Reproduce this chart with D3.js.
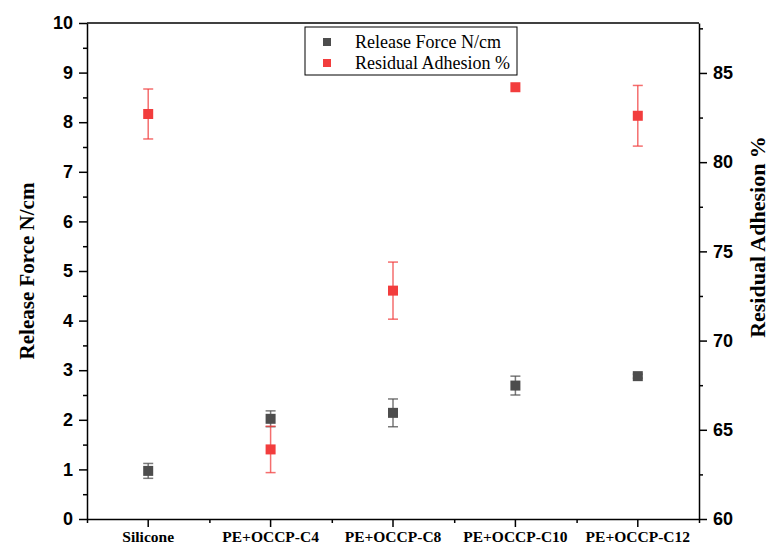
<!DOCTYPE html>
<html>
<head>
<meta charset="utf-8">
<script src="https://cdn.jsdelivr.net/npm/d3@7"></script>
<style>
  body { margin: 0; background: #fff; }
  .tick text { font-family: "Liberation Sans", Arial, sans-serif; font-weight: bold; font-size: 18px; fill: #000; }
  .xaxis .tick text { font-family: "Liberation Serif", "Times New Roman", serif; font-size: 15.5px; }
  .domain, .tick line { stroke: #000; stroke-width: 1.5px; }
</style>
</head>
<body>
<div id="chart"></div>
<script>
// categories + values
var categories = ["Silicone", "PE+OCCP-C4", "PE+OCCP-C8", "PE+OCCP-C10", "PE+OCCP-C12"];
var releaseForce = [0.97, 2.02, 2.14, 2.69, 2.88];
var releaseErr = [0.15, 0.16, 0.28, 0.19, 0.04];
var residualAdhesion = [82.7, 63.9, 72.8, 84.2, 82.6];
var residualErr = [1.4, 1.3, 1.6, 0, 1.7];

var leftTicks = [0, 1, 2, 3, 4, 5, 6, 7, 8, 9, 10];
var rightTicks = [60, 65, 70, 75, 80, 85];

var svgWidth = 769, svgHeight = 550;
var margin = {top: 23, left: 87, right: 70, bottom: 31};
var width = svgWidth - margin.left - margin.right;   // 612
var height = svgHeight - margin.top - margin.bottom; // 496

var svg = d3.select("#chart").append("svg")
    .attr("width", svgWidth)
    .attr("height", svgHeight);

var g = svg.append("g")
    .attr("transform", `translate(${margin.left}, ${margin.top})`);

var xBand = d3.scaleBand().domain(categories).range([0, width]);
var xScale = d => xBand(d) + xBand.bandwidth() / 2;
var yLeft = d3.scaleLinear().domain([0, 10]).range([height, 0]);
var yRight = d3.scaleLinear().domain([60, 87.8]).range([height, 0]);

// minor ticks first
var xMinor = categories.map(c => xBand(c)).concat([width]);
g.append("g")
    .attr("transform", `translate(0, ${height})`)
    .call(d3.axisBottom(d3.scaleLinear().domain([0, width]).range([0, width]))
        .tickValues(xMinor).tickSize(4).tickFormat(""))
    .call(a => a.select(".domain").remove());
g.append("g")
    .call(d3.axisLeft(yLeft).tickValues(d3.range(0.5, 10, 1)).tickSize(4).tickFormat(""))
    .call(a => a.select(".domain").remove());
g.append("g")
    .attr("transform", `translate(${width}, 0)`)
    .call(d3.axisRight(yRight).tickValues([62.5, 67.5, 72.5, 77.5, 82.5, 87.5]).tickSize(4).tickFormat(""))
    .call(a => a.select(".domain").remove());

// major axes
g.append("g")
    .attr("class", "xaxis")
    .attr("transform", `translate(0, ${height})`)
    .call(d3.axisBottom(xBand).tickSize(8).tickSizeOuter(0).tickPadding(4));
g.append("g")
    .call(d3.axisLeft(yLeft).tickValues(leftTicks).tickSize(8).tickSizeOuter(0).tickPadding(6));
g.append("g")
    .attr("transform", `translate(${width}, 0)`)
    .call(d3.axisRight(yRight).tickValues(rightTicks).tickSize(8).tickSizeOuter(0).tickPadding(6));

// top frame
g.append("line")
    .attr("x1", 0).attr("x2", width)
    .attr("y1", 0).attr("y2", 0)
    .attr("stroke", "#000").attr("stroke-width", 1.5);

// series
var series = [
    {name: "Release Force N/cm", vals: releaseForce, err: releaseErr, y: yLeft, color: "#4d4d4d"},
    {name: "Residual Adhesion %", vals: residualAdhesion, err: residualErr, y: yRight, color: "#f23d3d"}
];

series.forEach(function(s) {
    var pts = categories.map((c, i) => ({c: c, v: s.vals[i], e: s.err[i]}));
    var eg = g.append("g").attr("stroke", s.color).attr("stroke-opacity", 0.75).attr("stroke-width", 1.5);
    pts.filter(d => d.e > 0).forEach(function(d) {
        var x = xScale(d.c);
        eg.append("line").attr("x1", x).attr("x2", x)
            .attr("y1", s.y(d.v + d.e)).attr("y2", s.y(d.v - d.e));
        [d.v + d.e, d.v - d.e].forEach(function(v) {
            eg.append("line").attr("x1", x - 5).attr("x2", x + 5)
                .attr("y1", s.y(v)).attr("y2", s.y(v));
        });
    });
    g.selectAll(null)
        .data(pts)
        .enter()
        .append("rect")
        .attr("x", d => xScale(d.c) - 5)
        .attr("y", d => s.y(d.v) - 5)
        .attr("width", 10)
        .attr("height", 10)
        .attr("fill", s.color);
});

// legend
var legend = svg.append("g").attr("transform", "translate(305, 27)");
legend.append("rect")
    .attr("width", 212).attr("height", 48)
    .attr("fill", "#fff").attr("stroke", "#000").attr("stroke-width", 1);
series.forEach(function(s, i) {
    legend.append("rect")
        .attr("x", 18).attr("y", 11 + i * 21)
        .attr("width", 8).attr("height", 8)
        .attr("fill", s.color);
    legend.append("text")
        .attr("x", 50).attr("y", 21 + i * 21)
        .attr("font-family", "Liberation Serif, Times New Roman, serif")
        .attr("font-size", "18px")
        .text(s.name);
});

// axis titles
svg.append("text")
    .attr("transform", `translate(34, ${margin.top + height / 2}) rotate(-90)`)
    .attr("text-anchor", "middle")
    .attr("font-family", "Liberation Serif, Times New Roman, serif")
    .attr("font-weight", "bold")
    .attr("font-size", "21px")
    .text("Release Force N/cm");

svg.append("text")
    .attr("transform", "translate(765, 237) rotate(-90)")
    .attr("text-anchor", "middle")
    .attr("font-family", "Liberation Serif, Times New Roman, serif")
    .attr("font-weight", "bold")
    .attr("font-size", "22px")
    .text("Residual Adhesion %");
</script>
</body>
</html>
